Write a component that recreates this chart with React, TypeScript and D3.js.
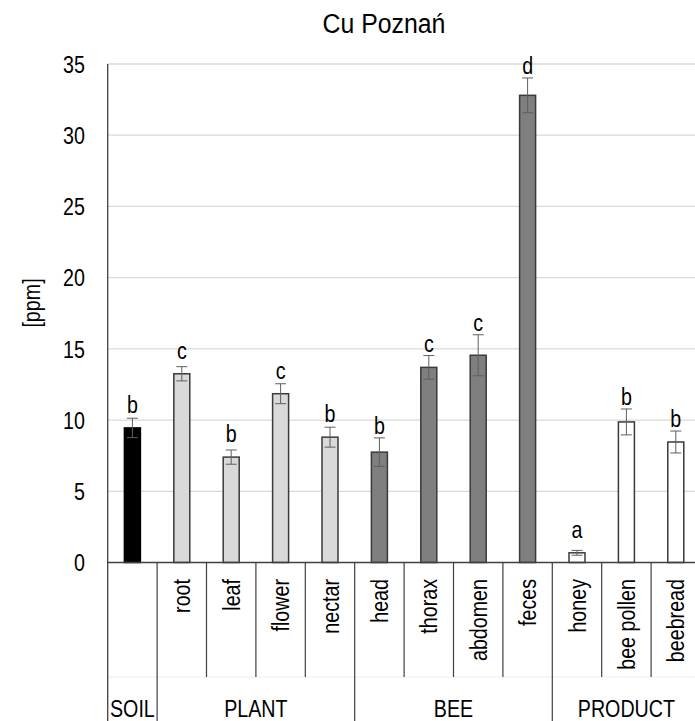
import React from "react";
import * as d3 from "d3";

const categories = ["soil", "root", "leaf", "flower", "nectar", "head", "thorax", "abdomen", "feces", "honey", "bee pollen", "beebread"];
const tickLabels = ["", "root", "leaf", "flower", "nectar", "head", "thorax", "abdomen", "feces", "honey", "bee pollen", "beebread"];
const groupOf = ["SOIL", "PLANT", "PLANT", "PLANT", "PLANT", "BEE", "BEE", "BEE", "BEE", "PRODUCT", "PRODUCT", "PRODUCT"];
const groups = ["SOIL", "PLANT", "BEE", "PRODUCT"];
const values = [9.45, 13.25, 7.4, 11.85, 8.8, 7.75, 13.7, 14.55, 32.8, 0.68, 9.87, 8.46];
const errors = [0.68, 0.5, 0.5, 0.7, 0.7, 1.0, 0.83, 1.44, 1.22, 0.17, 0.91, 0.77];
const letters = ["b", "c", "b", "c", "b", "b", "c", "c", "d", "a", "b", "b"];
const yTicks = [0, 5, 10, 15, 20, 25, 30, 35];
const groupFill: Record<string, string> = { SOIL: "#000000", PLANT: "#d9d9d9", BEE: "#7f7f7f", PRODUCT: "#ffffff" };

const W = 695;
const H = 721;
const FONT = "'Liberation Sans', Arial, sans-serif";

function NText({ x, y, rot = 0, anchor = "middle", dy = "0", size = 24, sx = 0.82, children }: any) {
  return (
    <text
      transform={`translate(${x},${y}) rotate(${rot}) scale(${sx},1)`}
      textAnchor={anchor}
      dy={dy}
      fontSize={size}
      fontFamily={FONT}
      fill="#000"
    >
      {children}
    </text>
  );
}

export default function App() {
  const x0 = 107.7;
  const bw = 49.4;
  const x = d3.scaleBand<string>().domain(categories).range([x0, x0 + bw * categories.length]).padding(0);
  const y = d3.scaleLinear().domain([0, 35]).range([562.5, 64]);
  const barW = 16;
  const base = y(0);

  const boundaries = categories.slice(1).map((c, i) => ({
    xPos: x(c)!,
    full: groupOf[i] !== groupOf[i + 1],
  }));

  const groupSpans = groups.map((g) => {
    const idx = categories.map((_, i) => i).filter((i) => groupOf[i] === g);
    const a = x(categories[idx[0]])!;
    const b = x(categories[idx[idx.length - 1]])! + x.bandwidth();
    return { g, cx: (a + b) / 2 };
  });

  return (
    <svg width={W} height={H} style={{ position: "absolute", left: 0, top: 0, background: "#fff" }}>
      <rect width={W} height={H} fill="#fff" />
      {/* title */}
      <NText x={384} y={33} size={27} sx={0.92}>Cu Poznań</NText>
      {/* grid */}
      {yTicks.filter((t) => t > 0).map((t) => (
        <line key={t} x1={x0} x2={W} y1={y(t)} y2={y(t)} stroke="#d9d9d9" strokeWidth={1.3} />
      ))}
      {/* y tick labels */}
      {yTicks.map((t) => (
        <NText key={t} x={85} y={y(t)} anchor="end" dy="0.36em">{t}</NText>
      ))}
      {/* y label */}
      <NText x={32} y={303} rot={-90} dy="0.35em">[ppm]</NText>
      {/* faint lower line */}
      <line x1={x0} x2={W} y1={677} y2={677} stroke="#eeeeee" strokeWidth={1} />
      {/* bars */}
      {categories.map((c, i) => {
        const cx = x(c)! + x.bandwidth() / 2;
        const g = groupOf[i];
        const top = y(values[i]);
        return (
          <g key={c}>
            <rect
              x={cx - barW / 2}
              y={top}
              width={barW}
              height={base - top}
              fill={groupFill[g]}
              stroke={g === "SOIL" ? "#000" : "#3a3a3a"}
              strokeWidth={1.5}
            />
          </g>
        );
      })}
      {/* error bars */}
      {categories.map((c, i) => {
        const cx = x(c)! + x.bandwidth() / 2;
        const hi = y(values[i] + errors[i]);
        const lo = y(values[i] - errors[i]);
        return (
          <g key={c} stroke="#5f5f5f" strokeWidth={1}>
            <line x1={cx} x2={cx} y1={hi} y2={lo} />
            <line x1={cx - 5.5} x2={cx + 5.5} y1={hi} y2={hi} />
            <line x1={cx - 5.5} x2={cx + 5.5} y1={lo} y2={lo} />
          </g>
        );
      })}
      {/* letters */}
      {categories.map((c, i) => {
        const cx = x(c)! + x.bandwidth() / 2;
        const by = Math.min(y(values[i]) - 15, y(values[i] + errors[i]) - 4);
        return (
          <NText key={c} x={cx} y={by}>{letters[i]}</NText>
        );
      })}
      {/* axes */}
      <line x1={x0} x2={x0} y1={64} y2={H} stroke="#404040" strokeWidth={1.3} />
      <line x1={x0} x2={W} y1={base} y2={base} stroke="#404040" strokeWidth={1.3} />
      {boundaries.map((b, i) => (
        <line key={i} x1={b.xPos} x2={b.xPos} y1={base} y2={b.full ? H : 677} stroke="#404040" strokeWidth={1.2} />
      ))}
      {/* category labels */}
      {categories.map((c, i) => (
        tickLabels[i] ? (
          <NText key={c} x={x(c)! + x.bandwidth() / 2} y={579} rot={-90} anchor="end" dy="0.36em">{tickLabels[i]}</NText>
        ) : null
      ))}
      {/* group labels */}
      {groupSpans.map((s) => (
        <NText key={s.g} x={s.cx} y={716.5}>{s.g}</NText>
      ))}
    </svg>
  );
}
